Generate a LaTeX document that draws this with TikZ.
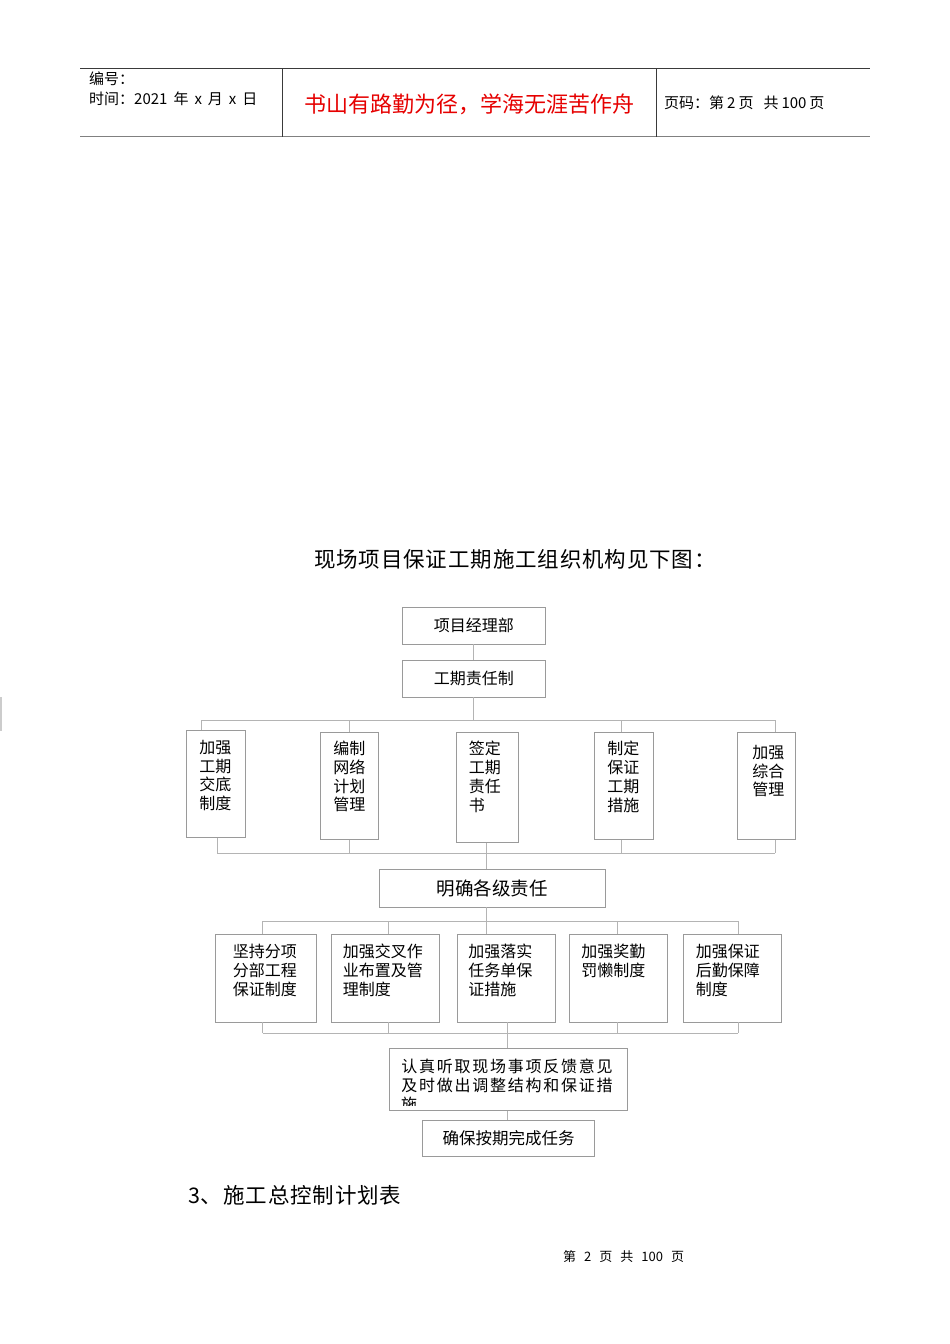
\documentclass[tikz,border=0pt]{standalone}
\usepackage{fontspec}
\setmainfont{Noto Sans CJK SC}
\newfontfamily\cjk{Noto Sans CJK SC}
\newfontfamily\cjkls[LetterSpace=11]{Noto Sans CJK SC}
\newfontfamily\cjkwide[LetterSpace=4]{Noto Sans CJK SC}
\usetikzlibrary{calc}
\definecolor{boxgray}{HTML}{9A9A9A}
\definecolor{linegray}{HTML}{B4B4B4}
\definecolor{hdrred}{HTML}{E60000}
\definecolor{hdrline}{HTML}{3A3A3A}
\begin{document}
\begin{tikzpicture}[x=1pt,y=-1pt,
  box/.style={draw=boxgray, line width=0.7pt, inner sep=0pt, font=\cjk\fontsize{16}{18.7}\selectfont},
  tbox/.style={box, anchor=north west},
  conn/.style={draw=linegray, line width=0.7pt},
  hdr/.style={anchor=west, inner sep=0pt, font=\cjk\fontsize{15}{17}\selectfont},
  big/.style={anchor=west, inner sep=0pt, font=\cjkwide\fontsize{21.5}{24}\selectfont}
  ]
\path[fill=white] (0,0) rectangle (950,1344);
\useasboundingbox (0,0) rectangle (950,1344);

% header
\draw[hdrline, line width=1pt] (80,68.5) -- (870,68.5);
\draw[gray, line width=1.3pt] (80,136.5) -- (870,136.5);
\draw[hdrline, line width=0.8pt] (282,68.5) -- (282,136.5);
\draw[hdrline, line width=0.8pt] (656,68.5) -- (656,136.5);
\node[hdr] (hno) at (89,79) {编号：};
\node[hdr] (htime) at (89,99) {时间：2021\hspace{6pt}年\hspace{6pt}x\hspace{6pt}月\hspace{6pt}x\hspace{6pt}日};
\node[inner sep=0pt, font=\cjk\fontsize{22}{24}\selectfont, text=hdrred] (motto) at (469,104) {书山有路勤为径，学海无涯苦作舟};
\node[hdr] (hpage) at (664,103) {页码：第\hspace{3pt}2\hspace{3pt}页\hspace{10pt}共\hspace{3pt}100\hspace{3pt}页};

% left edge mark
\draw[gray!40, line width=1.5pt] (0.8,697) -- (0.8,731);

% title
\node[big] (title) at (314,559) {现场项目保证工期施工组织机构见下图：};

% top boxes
\node[box, minimum width=143.6pt, minimum height=37pt] (a1) at (473.8,625.5) {项目经理部};
\node[box, minimum width=143.6pt, minimum height=37pt] (a2) at (473.8,678.5) {工期责任制};

% row 1
\node[tbox, inner xsep=13pt, inner ysep=10pt] (b1) at (186,730) {\parbox[t][87pt][t]{33pt}{加强\\工期\\交底\\制度}};
\node[tbox, inner xsep=13pt, inner ysep=9pt] (b2) at (320,732) {\parbox[t][89pt][t]{32pt}{编制\\网络\\计划\\管理}};
\node[tbox, inner xsep=12.5pt, inner ysep=9pt] (b3) at (456,732) {\parbox[t][92pt][t]{37pt}{签定\\工期\\责任\\书}};
\node[tbox, inner xsep=13pt, inner ysep=9pt] (b4) at (594,732) {\parbox[t][89pt][t]{33pt}{制定\\保证\\工期\\措施}};
\node[tbox, inner xsep=15pt, inner ysep=13pt] (b5) at (737,732) {\parbox[t][81pt][t]{28pt}{加强\\综合\\管理}};

% middle box
\node[box, minimum width=226pt, minimum height=38pt, font=\cjk\fontsize{18.5}{20}\selectfont] (m) at (492,888) {明确各级责任};

% row 2
\node[tbox, inner xsep=17.5pt, inner ysep=10pt] (c1) at (215,934) {\parbox[t][67.7pt][t]{66pt}{坚持分项\\分部工程\\保证制度}};
\node[tbox, inner xsep=12pt, inner ysep=10pt] (c2) at (330.6,934) {\parbox[t][67.7pt][t]{84.4pt}{加强交叉作\\业布置及管\\理制度}};
\node[tbox, inner xsep=11.3pt, inner ysep=10pt] (c3) at (456.7,934) {\parbox[t][67.7pt][t]{75.5pt}{加强落实\\任务单保\\证措施}};
\node[tbox, inner xsep=12pt, inner ysep=10pt] (c4) at (569,934) {\parbox[t][67.7pt][t]{74pt}{加强奖勤\\罚懒制度}};
\node[tbox, inner xsep=12.4pt, inner ysep=10pt] (c5) at (683,934) {\parbox[t][67.7pt][t]{73.2pt}{加强保证\\后勤保障\\制度}};

% feedback box
\node[tbox, inner xsep=12.5pt, inner ysep=11pt, font=\cjkls\fontsize{16}{18.3}\selectfont] (r) at (388.5,1048) {\parbox[t][40pt][t]{213.5pt}{认真听取现场事项反馈意见\\及时做出调整结构和保证措}};
\begin{scope}
\clip (390,1090) rectangle (626,1105);
\node[anchor=west, inner sep=0pt, font=\cjkls\fontsize{16}{18}\selectfont] (r3) at (401,1104.5) {施};
\end{scope}

% final box
\node[box, minimum width=172pt, minimum height=36.7pt, font=\cjk\fontsize{16.5}{18}\selectfont] (f) at (508.6,1138.3) {确保按期完成任务};

% connectors top
\draw[conn] (a1.south) -- (a2.north);
\coordinate (h1) at (473.8,720);
\coordinate (h1l) at (201.7,720);
\coordinate (h1r) at (775,720);
\coordinate (d2) at (349,720);
\coordinate (d4) at (621,720);
\draw[conn] (a2.south) -- (h1);
\draw[conn] (h1l) -- (h1r);
\draw[conn] (h1l) -- (h1l |- b1.north);
\draw[conn] (d2) -- (d2 |- b2.north);
\draw[conn] (d4) -- (d4 |- b4.north);
\draw[conn] (h1r) -- (h1r |- b5.north);

% connectors below row 1
\coordinate (g1) at (217,853);
\coordinate (g2) at (349,853);
\coordinate (g3) at (486.6,853);
\coordinate (g4) at (621,853);
\coordinate (g5) at (775,853);
\draw[conn] (g1) -- (g5);
\draw[conn] (g1 |- b1.south) -- (g1);
\draw[conn] (g2 |- b2.south) -- (g2);
\draw[conn] (g3 |- b3.south) -- (g3 |- m.north);
\draw[conn] (g4 |- b4.south) -- (g4);
\draw[conn] (g5 |- b5.south) -- (g5);

% connectors above row 2
\coordinate (k1) at (262.5,921);
\coordinate (k2) at (388.5,921);
\coordinate (k3) at (486.6,921);
\coordinate (k4) at (616.9,921);
\coordinate (k5) at (738,921);
\draw[conn] (k1) -- (k5);
\draw[conn] (k3 |- m.south) -- (k3 |- c3.north);
\draw[conn] (k1) -- (k1 |- c1.north);
\draw[conn] (k2) -- (k2 |- c2.north);
\draw[conn] (k4) -- (k4 |- c4.north);
\draw[conn] (k5) -- (k5 |- c5.north);

% connectors below row 2
\coordinate (l1) at (262.5,1033);
\coordinate (l2) at (388.5,1033);
\coordinate (l3) at (507.7,1033);
\coordinate (l4) at (616.9,1033);
\coordinate (l5) at (738,1033);
\draw[conn] (l1) -- (l5);
\draw[conn] (l1 |- c1.south) -- (l1);
\draw[conn] (l2 |- c2.south) -- (l2);
\draw[conn] (l4 |- c4.south) -- (l4);
\draw[conn] (l5 |- c5.south) -- (l5);
\draw[conn] (l3 |- c3.south) -- (l3 |- r.north);
\draw[conn] (l3 |- r.south) -- (l3 |- f.north);

% section heading and footer
\node[big] (sec) at (188,1195) {3、施工总控制计划表};
\node[anchor=west, inner sep=0pt, font=\cjk\fontsize{13}{15}\selectfont] (foot) at (563,1257) {第\hspace{8pt}2\hspace{8pt}页\hspace{8pt}共\hspace{8pt}100\hspace{8pt}页};
\end{tikzpicture}
\end{document}
